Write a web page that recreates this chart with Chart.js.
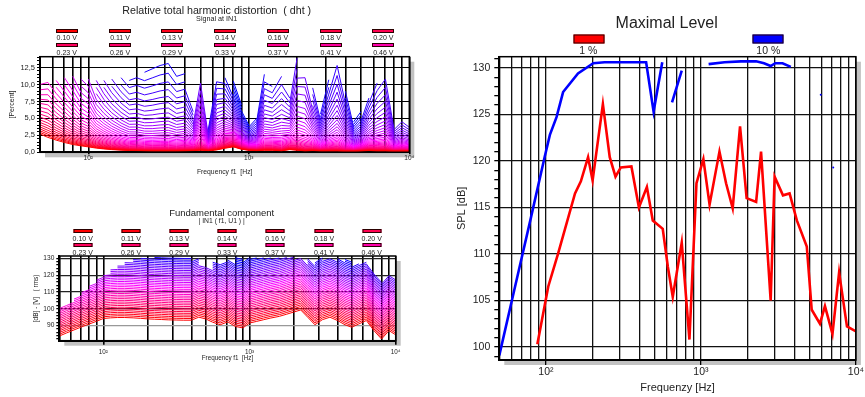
<!DOCTYPE html>
<html>
<head>
<meta charset="utf-8">
<script src="https://cdn.jsdelivr.net/npm/chart.js@4.4.1/dist/chart.umd.min.js"></script>
<style>
  body { margin: 0; background: #fff; font-family: "Liberation Sans", Arial, sans-serif; }
  #wrap { position: relative; width: 865px; height: 397px; overflow: hidden; }
  canvas { position: absolute; }
  .t { position: absolute; transform: translate(-50%, -50%); white-space: nowrap; line-height: 1; color: #222; }
  .box { position: absolute; box-sizing: border-box; border: 1px solid #2a0000; transform: translate(-50%, -50%); }
</style>
</head>
<body>
<div id="wrap">
  <canvas id="thd" width="425" height="200" style="left:0;top:0"></canvas>
  <canvas id="fund" width="425" height="197" style="left:0;top:200px"></canvas>
  <canvas id="spl" width="435" height="397" style="left:430px;top:0"></canvas>

  <div class="t" style="left:216.7px;top:10px;font-size:10.7px">Relative total harmonic distortion&nbsp; ( dht )</div>
  <div class="t" style="left:216.7px;top:19px;font-size:7.2px">Signal at IN1</div>
  <div class="t" style="left:221.7px;top:213.3px;font-size:9.5px">Fundamental component</div>
  <div class="t" style="left:221.7px;top:221px;font-size:6.8px">| IN1 ( f1, U1 ) |</div>
  <div class="t" style="left:666.7px;top:22.7px;font-size:16px">Maximal Level</div>
  <div id="legends"></div>
</div>
<script>
// measurement points of the two left charts [Hz]
const freqs = [50, 56, 63, 71, 80, 90, 100, 112, 125, 140, 160, 180, 200, 224, 250, 280, 315, 355,
  400, 450, 500, 560, 630, 710, 800, 900, 1000, 1120, 1250, 1400, 1600, 1800, 2000, 2240, 2500,
  2800, 3150, 3550, 4000, 4500, 5000, 5600, 6300, 7100, 8000, 9000, 10000];

// fundamental of the lowest level (0.10 V) [dB]
const fundBase = [83.8, 85.6, 87.4, 89.2, 90.9, 92.6, 94.2, 94.6, 94.8, 94.8, 94.6, 94.3, 94.0,
  93.8, 93.6, 93.4, 93.3, 93.2, 93.2, 95.0, 94.0, 92.0, 90.5, 92.2, 89.5, 88.6, 91.5, 92.5, 93.5,
  94.5, 95.5, 96.8, 98.0, 99.3, 95.0, 90.5, 93.5, 95.0, 93.0, 90.5, 89.0, 91.0, 93.0, 87.0, 82.0,
  87.0, 84.5];

// highest fundamental that was still measured [dB]
const fundTop = [100.2, 102.9, 106.4, 110.1, 113.9, 117.4, 120.6, 123.3, 125.7, 128.0, 129.4,
  130.0, 130.5, 130.6, 130.6, 130.6, 130.6, 130.6, 130.6, 130.5, 125.5, 130.4, 126.5, 129.3,
  130.3, 130.5, 130.5, 130.4, 130.5, 130.6, 130.7, 130.7, 130.7, 130.7, 130.5, 130.2, 130.5,
  130.3, 130.0, 129.5, 128.5, 127.5, 128.0, 121.5, 122.0, 120.5, 122.0];

// THD of the lowest level [%]
const thdLow = [2.7, 2.2, 1.8, 1.45, 1.15, 0.95, 0.8, 0.62, 0.5, 0.4, 0.32, 0.27, 0.25, 0.22, 0.2,
  0.2, 0.2, 0.2, 0.22, 0.25, 0.3, 0.25, 0.35, 0.6, 0.8, 0.45, 0.3, 0.25, 0.3, 0.3, 0.22, 0.4, 0.3,
  0.2, 0.25, 0.2, 0.2, 0.2, 0.15, 0.15, 0.2, 0.25, 0.2, 0.2, 0.15, 0.15, 0.15];

// THD of the highest level still measured [%]
const thdTop = [10.0, 10.3, 10.6, 11.0, 11.2, 10.8, 10.8, 10.6, 10.6, 10.8, 11.0, 10.6, 11.0, 11.8,
  12.3, 12.8, 13.1, 11.2, 11.6, 6.0, 10.2, 4.0, 10.4, 11.0, 10.5, 7.5, 4.0, 5.0, 11.5, 9.7, 11.2,
  8.0, 13.9, 11.0, 9.5, 6.8, 10.7, 12.8, 9.0, 4.5, 6.0, 8.0, 10.2, 10.8, 6.5, 4.5, 5.5];

// generator levels shown in the legends [V]
const levelVolts = [0.10, 0.11, 0.13, 0.14, 0.16, 0.18, 0.20, 0.23, 0.26, 0.29, 0.33, 0.37, 0.41, 0.46];
const levelCount = 44;
const levelStepDb = 1.02;

// Maximal Level, 1 % and 10 % THD
const redFreq = [88, 103.5, 120, 154, 168, 187, 200, 233, 258, 281, 304, 356, 398, 448, 489, 567,
  612, 658, 752, 843, 936, 1037, 1137, 1317, 1453, 1603, 1788, 1972, 2271, 2443, 2818, 2989, 3384,
  3733, 4158, 4820, 5186, 5860, 6314, 7060, 7790, 8757, 9940];
const redSpl = [100.3, 106.5, 110.1, 116.5, 117.8, 120.4, 117.9, 126.1, 120.4, 118.3, 119.3, 119.4,
  115.0, 117.2, 113.6, 112.7, 108.6, 105.4, 111.2, 100.8, 117.6, 120.2, 115.3, 121.0, 117.6, 114.9,
  123.7, 116.0, 115.6, 121.0, 105.0, 118.3, 116.3, 116.5, 113.6, 110.8, 104.0, 102.5, 104.4, 101.4,
  108.0, 102.2, 101.7];
const blueFreq = [50, 63, 80, 98, 106, 117, 129, 161, 202, 239, 443, 495, 563, 600, 651, 752, 900,
  1121, 1419, 1812, 2271, 2553, 2818, 3016, 3363, 3800, 4500, 5930, 6500, 7140];
const blueSpl = [99.1, 106.4, 113.9, 120.4, 122.8, 124.7, 127.4, 129.4, 130.5, 130.6, 130.6, 125.3,
  130.6, null, 126.3, 129.7, null, 130.4, 130.6, 130.7, 130.7, 130.5, 130.2, 130.5, 130.5, 130.1,
  null, 127.1, null, 119.3];

// axes
const freqGrid = [50, 60, 70, 80, 90, 100, 200, 300, 400, 500, 600, 700, 800, 900,
  1000, 2000, 3000, 4000, 5000, 6000, 7000, 8000, 9000, 10000];
const decadeLabels = { 100: '10²', 1000: '10³', 10000: '10⁴' };
const thdLabels = [0, 2.5, 5, 7.5, 10, 12.5];
const fundLabels = [90, 100, 110, 120, 130];
const splLabels = [100, 105, 110, 115, 120, 125, 130];

Chart.defaults.font.family = '"Liberation Sans", Arial, sans-serif';
Chart.defaults.color = '#222';

// red -> magenta -> blue over the levels
function levelColor(k) {
  const t = Math.min(1, k / 38);
  if (t < 0.5) return 'rgb(255,0,' + Math.round(510 * t) + ')';
  return 'rgb(' + Math.round(255 * (2 - 2 * t)) + ',0,255)';
}

// shadow behind the plot and a frame round it
const frame = {
  id: 'frame',
  beforeDraw(chart, args, opts) {
    const { ctx, chartArea: a } = chart;
    ctx.save();
    ctx.fillStyle = '#c2c2c2';
    ctx.fillRect(a.left + opts.off, a.top + opts.off, a.right - a.left, a.bottom - a.top);
    ctx.fillStyle = '#fff';
    ctx.fillRect(a.left, a.top, a.right - a.left, a.bottom - a.top);
    ctx.restore();
  },
  afterDraw(chart, args, opts) {
    const { ctx, chartArea: a } = chart;
    ctx.save();
    ctx.strokeStyle = '#000';
    ctx.lineWidth = opts.width;
    ctx.strokeRect(a.left, a.top, a.right - a.left, a.bottom - a.top);
    ctx.restore();
  }
};

function freqAxis(o) {
  return {
    type: 'logarithmic', min: 50, max: 10000, z: o.z,
    afterFit: s => { s.height = o.height; },
    afterBuildTicks: s => { s.ticks = freqGrid.map(v => ({ value: v })); },
    grid: {
      color: o.gridColor, lineWidth: o.grid, tickLength: o.tickLen,
      tickColor: c => (c.tick && decadeLabels[c.tick.value]) ? '#000' : 'rgba(0,0,0,0)'
    },
    border: { color: '#000', width: 2 },
    ticks: {
      autoSkip: false, maxRotation: 0, minRotation: 0, padding: o.tickPad,
      font: { size: o.tickSize }, callback: v => decadeLabels[v] || ''
    },
    title: { display: true, text: o.title, font: { size: o.titleSize }, padding: { top: 0, bottom: o.titlePad } }
  };
}

function valueAxis(o) {
  const ticks = [];
  for (let v = o.first; v <= o.max + 1e-9; v += o.minor) ticks.push(+v.toFixed(2));
  const isMajor = v => o.labels.some(l => Math.abs(l - v) < 1e-6);
  return {
    min: o.min, max: o.max, z: o.z,
    afterFit: s => { s.width = o.width; },
    afterBuildTicks: s => { s.ticks = ticks.map(v => ({ value: v })); },
    grid: {
      lineWidth: o.grid, tickLength: o.tickLen, tickColor: '#000',
      color: c => (c.tick && isMajor(c.tick.value)) ? o.gridColor(c.tick.value) : 'rgba(0,0,0,0)'
    },
    border: { color: '#000', width: 2 },
    ticks: {
      autoSkip: false, padding: o.tickPad, font: { size: o.tickSize },
      callback: v => isMajor(v) ? o.fmt(v) : ''
    },
    title: { display: true, text: o.title, font: { size: o.titleSize }, padding: { top: o.titlePad, bottom: 0 } }
  };
}

// one line per generator level; a level is drawn where it was still measured
const topLevel = freqs.map((f, i) => Math.min(levelCount - 1, Math.floor((fundTop[i] - fundBase[i]) / levelStepDb)));
const fundSets = [];
const thdSets = [];
for (let k = 0; k < levelCount; k++) {
  const style = { borderColor: levelColor(k), borderWidth: 1, pointRadius: 0, tension: 0, spanGaps: false };
  fundSets.push(Object.assign({
    data: freqs.map((f, i) => ({ x: f, y: k <= topLevel[i] ? fundBase[i] + k * levelStepDb : null }))
  }, style));
  thdSets.push(Object.assign({
    data: freqs.map((f, i) => ({ x: f, y: k <= topLevel[i] ? thdLow[i] * Math.pow(thdTop[i] / thdLow[i], k / topLevel[i]) : null }))
  }, style));
}

const common = {
  responsive: false, animation: false, events: [],
  plugins: { legend: { display: false }, tooltip: { enabled: false }, frame: { off: 5, width: 1.5 } }
};

new Chart(document.getElementById('thd'), {
  type: 'line',
  data: { datasets: thdSets },
  plugins: [frame],
  options: Object.assign({}, common, {
    layout: { padding: { left: 0, top: 56.7, right: 15.7, bottom: 22.7 } },
    scales: {
      x: freqAxis({ z: 1, height: 25, grid: 1.6, gridColor: '#000', tickLen: 2, tickPad: 0, tickSize: 6.5,
        title: 'Frequency f1  [Hz]', titleSize: 6.8, titlePad: 0.9 }),
      y: valueAxis({ z: 1, min: 0, max: 14.1, first: 0, minor: 0.5, labels: thdLabels, width: 40, tickLen: 3, tickPad: 2,
        grid: 1, gridColor: () => '#000', tickSize: 7.5, fmt: v => v.toFixed(1).replace('.', ','),
        title: '[Percent]', titleSize: 7, titlePad: 8.3 })
    }
  })
});

new Chart(document.getElementById('fund'), {
  type: 'line',
  data: { datasets: fundSets },
  plugins: [frame],
  options: Object.assign({}, common, {
    layout: { padding: { left: 0, top: 56, right: 29.3, bottom: 31.3 } },
    scales: {
      x: freqAxis({ z: 1, height: 25, grid: 1.6, gridColor: '#000', tickLen: 4, tickPad: 4, tickSize: 6.3,
        title: 'Frequency f1  [Hz]', titleSize: 6.3, titlePad: 3.2 }),
      y: valueAxis({ z: 1, min: 81, max: 131.4, first: 82, minor: 2, labels: fundLabels, width: 59.3, tickLen: 3, tickPad: 2,
        grid: 1.2, gridColor: v => v === 90 ? '#999' : '#222', tickSize: 6.6, fmt: v => String(v),
        title: '[dB] - [V]   ( rms)', titleSize: 6.5, titlePad: 32.8 })
    }
  })
});

const isolated = blueSpl.map((v, i) => v !== null && blueSpl[i - 1] == null && blueSpl[i + 1] == null);
new Chart(document.getElementById('spl'), {
  type: 'line',
  data: {
    datasets: [
      { label: '1 %', data: redFreq.map((f, i) => ({ x: f, y: redSpl[i] })), borderColor: '#ff0000', borderWidth: 2.6, pointRadius: 0, tension: 0 },
      { label: '10 %', data: blueFreq.map((f, i) => ({ x: f, y: blueSpl[i] })), borderColor: '#0000ff', borderWidth: 2.6, tension: 0, spanGaps: false,
        pointRadius: c => isolated[c.dataIndex] ? 1 : 0, pointBackgroundColor: '#0000ff', pointBorderWidth: 0 }
    ]
  },
  plugins: [frame],
  options: Object.assign({}, common, {
    layout: { padding: { left: 0, top: 56.7, right: 7.3, bottom: 0 } },
    scales: {
      x: freqAxis({ z: 0, height: 37, grid: 1.3, gridColor: '#111', tickLen: 5, tickPad: 1, tickSize: 10.5,
        title: 'Frequenzy [Hz]', titleSize: 11, titlePad: 2.1 }),
      y: valueAxis({ z: 0, min: 98.6, max: 131.2, first: 99, minor: 1, labels: splLabels, width: 69.3, tickLen: 5, tickPad: 4,
        grid: 1.3, gridColor: () => '#111', tickSize: 10.5, fmt: v => String(v), title: 'SPL [dB]', titleSize: 11, titlePad: 25.4 })
    }
  })
});

// legends: a coloured bar with its label underneath
const legendHost = document.getElementById('legends');
function addText(x, y, size, text) {
  const d = document.createElement('div');
  d.className = 't';
  d.style.left = x + 'px'; d.style.top = y + 'px'; d.style.fontSize = size + 'px';
  d.textContent = text;
  legendHost.appendChild(d);
}
function addBox(x, y, w, h, color) {
  const d = document.createElement('div');
  d.className = 'box';
  d.style.left = x + 'px'; d.style.top = y + 'px'; d.style.width = w + 'px'; d.style.height = h + 'px';
  d.style.background = color;
  legendHost.appendChild(d);
}
function levelLegend(cols, boxY, textY, w) {
  levelVolts.forEach((v, k) => {
    const row = k < 7 ? 0 : 1;
    const x = cols[k % 7];
    addBox(x, boxY[row], w, 4, levelColor(k));
    addText(x, textY[row], 7, v.toFixed(2) + ' V');
  });
}
levelLegend([66.7, 120, 172.3, 225.3, 278, 330.7, 383.3], [30.7, 44.8], [37.3, 52.3], 22);
levelLegend([82.7, 131, 179.3, 227.3, 275.3, 324, 371.7], [231.2, 244.7], [237.7, 251.7], 19);
addBox(588.8, 38.5, 31, 9, '#ff0000');
addText(588.3, 50.3, 10.5, '1 %');
addBox(767.8, 38.5, 31, 9, '#0000ff');
addText(768.3, 50.3, 10.5, '10 %');
</script>
</body>
</html>
